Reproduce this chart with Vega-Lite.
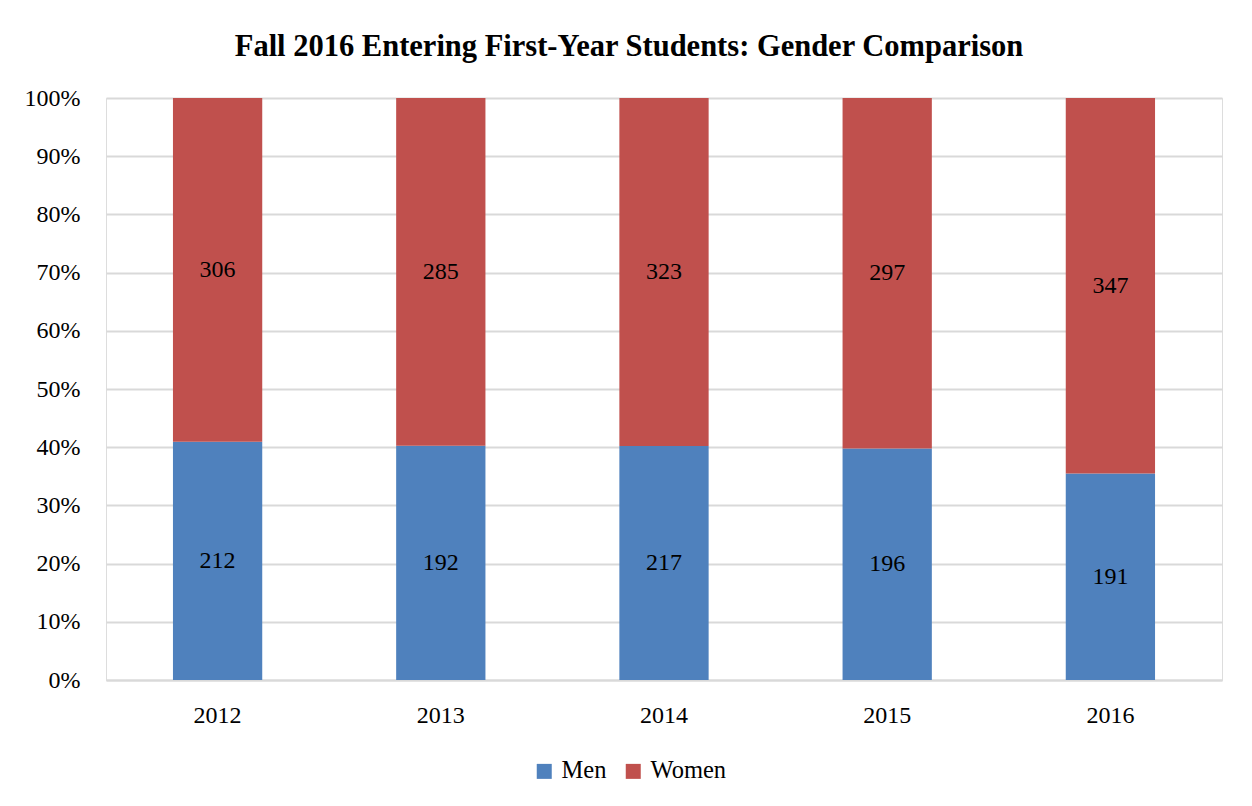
{
  "$schema": "https://vega.github.io/schema/vega-lite/v6.json",
  "autosize": {"type": "none"},
  "padding": {"left": 106, "top": 98, "right": 30, "bottom": 126},
  "width": 1116,
  "height": 582,
  "background": "white",
  "title": {
    "text": "Fall 2016 Entering First-Year Students: Gender Comparison",
    "anchor": "middle",
    "dx": -35,
    "offset": 24,
    "font": "Liberation Serif",
    "fontSize": 30.5,
    "fontWeight": "bold",
    "color": "black"
  },
  "data": {
    "values": [
      {"year": "2012", "gender": "Men", "count": 212},
      {"year": "2012", "gender": "Women", "count": 306},
      {"year": "2013", "gender": "Men", "count": 192},
      {"year": "2013", "gender": "Women", "count": 285},
      {"year": "2014", "gender": "Men", "count": 217},
      {"year": "2014", "gender": "Women", "count": 323},
      {"year": "2015", "gender": "Men", "count": 196},
      {"year": "2015", "gender": "Women", "count": 297},
      {"year": "2016", "gender": "Men", "count": 191},
      {"year": "2016", "gender": "Women", "count": 347}
    ]
  },
  "encoding": {
    "x": {
      "field": "year", "type": "ordinal",
      "scale": {"paddingInner": 0.6, "paddingOuter": 0.3},
      "axis": {"title": null, "labelAngle": 0, "ticks": false, "domainColor": "#d9d9d9", "domainWidth": 2, "labelPadding": 23, "labelFontSize": 24, "labelFont": "Liberation Serif", "labelColor": "black"}
    }
  },
  "layer": [
    {
      "mark": {"type": "bar"},
      "encoding": {
        "y": {
          "field": "count", "type": "quantitative", "stack": "normalize",
          "scale": {"domain": [0, 1]},
          "axis": {"title": null, "format": ".0%", "values": [0, 0.1, 0.2, 0.3, 0.4, 0.5, 0.6, 0.7, 0.8, 0.9, 1], "ticks": false, "domain": false, "gridColor": "#d9d9d9", "gridWidth": 2, "labelPadding": 26, "labelFontSize": 24, "labelFont": "Liberation Serif", "labelColor": "black"}
        },
        "color": {
          "field": "gender", "type": "nominal",
          "scale": {"domain": ["Men", "Women"], "range": ["#4F81BD", "#C0504D"]},
          "legend": {"title": null, "orient": "none", "direction": "horizontal", "legendX": 426, "legendY": 661, "symbolType": "square", "symbolSize": 225, "symbolStrokeWidth": 0, "symbolOpacity": 1, "labelFontSize": 24.5, "labelFont": "Liberation Serif", "labelColor": "black", "labelOffset": 5, "columnPadding": 14}
        },
        "order": {"field": "gender"}
      }
    },
    {
      "mark": {"type": "text", "font": "Liberation Serif", "fontSize": 24, "color": "black", "baseline": "middle"},
      "encoding": {
        "y": {"field": "count", "type": "quantitative", "stack": "normalize", "bandPosition": 0.5},
        "detail": {"field": "gender"},
        "order": {"field": "gender"},
        "text": {"field": "count", "type": "quantitative"}
      }
    }
  ]
}
